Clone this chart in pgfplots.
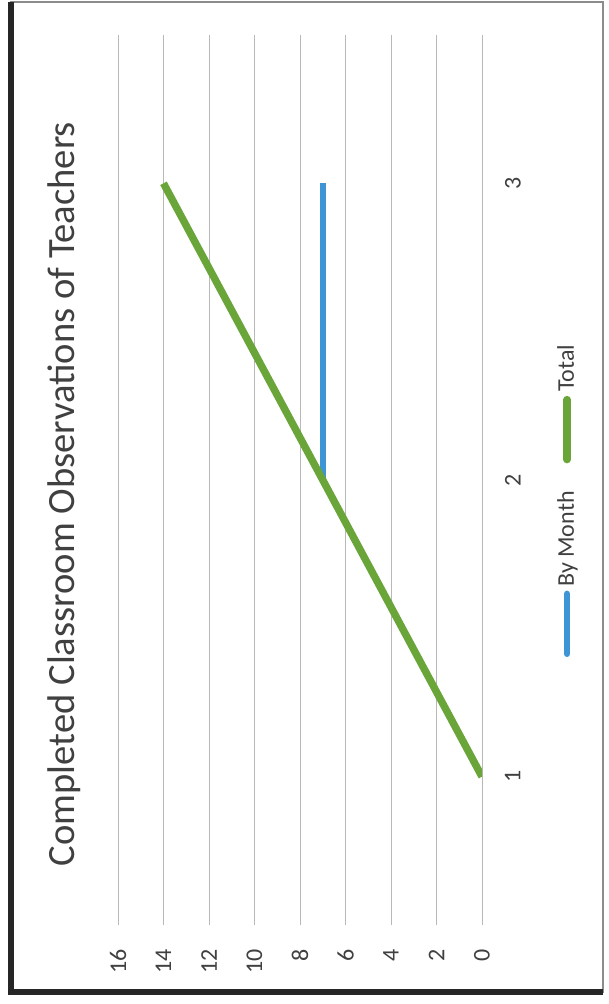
\documentclass[border=0pt]{standalone}
\usepackage{graphicx}
\usepackage{pgfplots}
\pgfplotsset{compat=1.18}
\usepackage{fontspec}
\setmainfont{Carlito}
\definecolor{xlblue}{HTML}{3D95D6}
\definecolor{xlgreen}{HTML}{6AA53A}
\definecolor{txt}{HTML}{404040}
\begin{document}
\rotatebox{90}{%
\begin{tikzpicture}[x=1bp,y=1bp]
\path[use as bounding box] (0,0) rectangle (502,304);
\draw[line width=0.8bp, black!45] (6,2.5) rectangle (501,298.5);
\draw[line width=2.6bp, black!85] (6,2.5) -- (6,298.5) -- (501,298.5);
\node[font=\fontsize{19.3bp}{22bp}\selectfont, text=txt, anchor=base] at (255,266.5) {Completed Classroom Observations of Teachers};
\begin{axis}[
  at={(39.5bp,63bp)}, anchor=south west,
  scale only axis, width=445bp, height=182bp,
  xmin=0.5, xmax=3.5, ymin=0, ymax=16,
  xtick={1,2,3}, ytick={0,2,...,16},
  ymajorgrids, grid style={black!28, line width=0.45bp},
  axis line style={draw=none}, major tick style={draw=none},
  ticklabel style={font=\fontsize{12bp}{14bp}\selectfont, text=txt},
  /pgf/number format/assume math mode=true,
  xticklabel style={yshift=-8bp},
  yticklabel style={xshift=-8.5bp},
  legend style={at={(0.5,0)}, anchor=center, xshift=-9.5bp, yshift=-42.5bp,
    draw=none, fill=none, font=\fontsize{12bp}{14bp}\selectfont, text=txt,
    legend columns=2, /tikz/every even column/.append style={column sep=12bp},
    nodes={inner xsep=2bp}},
  legend image code/.code={\draw[#1, line cap=round] (0bp,0bp) -- (30bp,0bp);},
]
\addplot[xlblue, line width=3.2bp] coordinates {(2,7) (3,7)};
\addlegendentry{By Month}
\addplot[xlgreen, line width=3.7bp] coordinates {(1,0) (2,7) (3,14)};
\addlegendentry{Total}
\end{axis}
\end{tikzpicture}}
\end{document}
